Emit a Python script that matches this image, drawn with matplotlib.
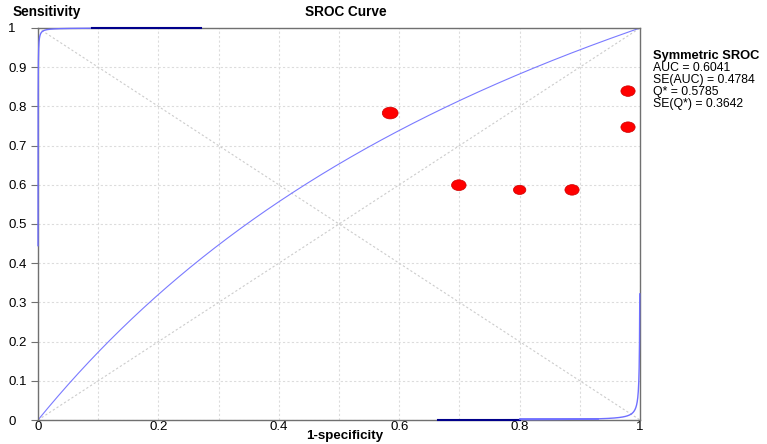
import matplotlib.pyplot as plt
import numpy as np
from matplotlib.path import Path
from matplotlib.transforms import Affine2D

plt.rcParams['font.family'] = ['Liberation Sans', 'DejaVu Sans']

# study points (1-specificity, sensitivity) and marker weights
fpr = [0.585, 0.699, 0.800, 0.887, 0.980, 0.980]
tpr = [0.783, 0.599, 0.587, 0.587, 0.839, 0.747]
weights = [130, 110, 80, 105, 105, 105]

# summary statistics shown on the chart
auc = 0.6041
se_auc = 0.4784
q_star = 0.5785
se_q = 0.3642
band = 9.0  # offset of the outer curves in log DOR units


def expit(z):
  return 1 / (1 + np.exp(-z))


def logit(p):
  return np.log(p / (1 - p))


# symmetric SROC: logit(TPR) = logit(FPR) + D, D = 2*logit(Q*)
D = 2 * logit(q_star)
x = np.linspace(1e-6, 1 - 1e-6, 2000)
y = expit(logit(x) + D)

xu = np.concatenate([np.logspace(-4.28, -1, 400), np.linspace(0.1, 0.27, 50)])
yu = expit(logit(xu) + D + band)
xl = 1 - np.concatenate([np.logspace(-3.31, -1, 400), np.linspace(0.1, 0.335, 50)])
yl = expit(logit(xl) + D - band)

fig = plt.figure(figsize=(7.67, 4.44), dpi=100)
ax = fig.add_axes([0.0495, 0.054, 0.785, 0.883])

ax.set_xlim(0, 1)
ax.set_ylim(0, 1)
ax.set_xticks(np.arange(0, 1.01, 0.1), minor=True)
ax.set_xticks([0, 0.2, 0.4, 0.6, 0.8, 1])
ax.set_xticklabels(["0", "0.2", "0.4", "0.6", "0.8", "1"])
ax.set_yticks(np.arange(0, 1.01, 0.1))
ax.set_yticklabels(["0", "0.1", "0.2", "0.3", "0.4", "0.5", "0.6", "0.7", "0.8", "0.9", "1"])
ax.grid(True, which="both", color="#dcdcdc", linestyle=(0, (2, 2)), linewidth=0.8)
ax.tick_params(axis="both", which="both", labelsize=9.5, color="#707070", width=0.8)
ax.tick_params(axis="x", which="both", length=0, pad=1)
ax.tick_params(axis="y", length=5, pad=16.5)
for lab in ax.get_yticklabels():
  lab.set_horizontalalignment("left")
for s in ax.spines.values():
  s.set_color("#707070")
  s.set_linewidth(1)

# reference diagonals
ax.plot([0, 1], [0, 1], color="#cccccc", linestyle=(0, (2, 2)), linewidth=0.8)
ax.plot([0, 1], [1, 0], color="#cccccc", linestyle=(0, (2, 2)), linewidth=0.8)

ax.plot(x, y, color="#7a7aff", linewidth=0.8)
ax.plot(xu, yu, color="#6f6fff", linewidth=1.0, clip_on=False, zorder=3)
ax.plot(xl, yl, color="#6f6fff", linewidth=1.0, clip_on=False, zorder=3)
ax.plot([0.09, 0.27], [1, 1], color="#00008b", linewidth=1.5, clip_on=False, zorder=3)
ax.plot([0.665, 0.80], [0, 0], color="#00008b", linewidth=1.5, clip_on=False, zorder=3)
ax.plot([0.80, 0.93], [0.002, 0.002], color="#6f6fff", linewidth=1.3, clip_on=False, zorder=3)

ell = Path.unit_circle().transformed(Affine2D().scale(1.35, 1.0))
ax.scatter(fpr, tpr, s=weights, marker=ell, color="#ff0000", edgecolors="#cc0000",
           linewidths=0.5, zorder=5, clip_on=False)

fig.text(0.017, 0.972, "Sensitivity", fontsize=9.8, fontweight="bold", va="center")
fig.text(0.451, 0.972, "SROC Curve", fontsize=9.8, fontweight="bold", va="center", ha="center")
fig.text(0.45, 0.018, "1-specificity", fontsize=9.6, fontweight="bold", va="center", ha="center")

fig.text(0.851, 0.874, "Symmetric SROC", fontsize=9.3, fontweight="bold", va="center")
lines = ["AUC = %.4f" % auc, "SE(AUC) = %.4f" % se_auc,
         "Q* = %.4f" % q_star, "SE(Q*) = %.4f" % se_q]
for i, t in enumerate(lines):
  fig.text(0.851, 0.847 - i * 0.0272, t, fontsize=8.8, va="center")

fig.savefig("out.png", dpi=100)
